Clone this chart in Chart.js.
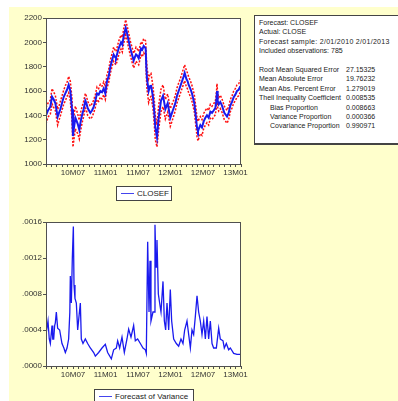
<!DOCTYPE html>
<html>
<head>
<meta charset="utf-8">
<script src="https://cdn.jsdelivr.net/npm/chart.js@4.4.0/dist/chart.umd.min.js"></script>
<style>
  html, body { margin: 0; padding: 0; background: #fff; overflow: hidden; }
  body { width: 398px; height: 401px; position: relative; font-family: "Liberation Sans", Arial, sans-serif; }
  #panel { position: absolute; left: 9px; top: 7px; right: 0; bottom: 0; background: #ffffcc; }
  canvas { position: absolute; }
  .legend { position: absolute; border: 1px solid #444; background: #fff; font-size: 8px; color: #222; height: 13px; line-height: 13px; white-space: nowrap; }
  .legend i { display: inline-block; width: 13px; height: 0; border-top: 1px solid #4444ee; vertical-align: middle; margin: 0 3px 0 4px; }
  #stats { position: absolute; left: 254px; top: 15px; width: 160px; height: 127px; background: #fff; border: 1px solid #444; border-bottom-width: 2px; font-size: 7px; color: #222; }
  #stats div { position: absolute; left: 4px; white-space: nowrap; }
  #stats span { position: absolute; left: 87px; letter-spacing: 0; }
</style>
</head>
<body>
<div id="panel"></div>
<canvas id="top" width="250" height="190" style="left:0;top:0"></canvas>
<canvas id="bottom" width="250" height="190" style="left:0;top:200px"></canvas>
<div class="legend" style="left:116px;top:186px;width:54px"><i></i>CLOSEF</div>
<div class="legend" style="left:94px;top:389px;width:98px"><i></i>Forecast of Variance</div>
<div id="stats"></div>
<script>
// x positions are in months from the start of the sample (Feb 2010)
const tickMonths = [5, 11, 17, 23, 29, 35];
const tickLabels = ['10M07', '11M01', '11M07', '12M01', '12M07', '13M01'];

const priceMonths = [0, 0.37, 0.8, 1.11, 1.42, 1.72, 2.15, 2.4, 2.65, 3.26, 3.57, 3.88, 4.18, 4.49, 4.8, 4.98,
  5.11, 5.42, 5.6, 5.85, 6.15, 6.4, 6.65, 6.95, 7.26, 7.45, 7.69, 8.18, 8.49, 8.8, 9.11, 9.42, 9.72, 10.03,
  10.34, 10.65, 10.95, 11.26, 11.57, 11.88, 12.18, 12.49, 12.74, 12.92, 13.23, 13.42, 13.85, 14.09, 14.34,
  14.71, 14.89, 15.08, 15.32, 15.57, 15.88, 16.18, 16.43, 16.62, 16.86, 17.11, 17.54, 17.78, 18.03, 18.4,
  18.52, 18.65, 18.95, 19.2, 19.38, 19.75, 20.0, 20.18, 20.49, 20.8, 21.23, 21.6, 21.85, 22.03, 22.46, 22.71,
  22.95, 23.26, 23.57, 23.88, 24.18, 24.49, 24.8, 25.11, 25.42, 25.6, 25.91, 26.15, 26.34, 26.65, 26.95,
  27.38, 27.69, 27.88, 28.06, 28.31, 28.49, 28.8, 29.11, 29.42, 29.72, 30.03, 30.34, 30.65, 30.95, 31.26,
  31.45, 31.57, 31.69, 31.88, 32.18, 32.49, 32.92, 33.42, 33.72, 34.03, 34.34, 34.65, 34.95, 35.26, 35.57, 35.88];

const closef = [1400, 1440, 1471, 1554, 1530, 1500, 1388, 1420, 1450, 1550, 1580, 1610, 1651, 1600, 1450, 1230,
  1280, 1380, 1360, 1330, 1280, 1350, 1400, 1450, 1520, 1500, 1460, 1420, 1440, 1470, 1520, 1580, 1570, 1600,
  1590, 1620, 1580, 1680, 1720, 1800, 1850, 1900, 1880, 1870, 1920, 1950, 2000, 1980, 2050,
  2120, 2090, 2050, 2000, 1950, 1900, 1850, 1880, 1900, 1890, 1870, 1950, 1940, 1970, 1950,
  1800, 1700, 1600, 1640, 1650, 1550, 1420, 1300, 1220, 1380, 1520, 1560, 1500, 1450, 1500, 1440,
  1380, 1420, 1460, 1500, 1560, 1600, 1640, 1680, 1720, 1748, 1700, 1680, 1650, 1620, 1580,
  1500, 1380, 1300, 1270, 1300, 1320, 1300, 1350, 1380, 1400, 1380, 1430, 1420, 1440, 1460,
  1520, 1600, 1520, 1490, 1510, 1480, 1420, 1390, 1420, 1480, 1510, 1550, 1570, 1600, 1610, 1640];

const upperBand = [1465, 1500, 1525, 1620, 1590, 1565, 1450, 1475, 1515, 1605, 1645, 1670, 1720, 1680, 1540, 1330,
  1380, 1475, 1450, 1410, 1360, 1425, 1470, 1515, 1580, 1560, 1515, 1475, 1495, 1525, 1570, 1635, 1620, 1655,
  1640, 1675, 1635, 1735, 1775, 1855, 1905, 1960, 1935, 1925, 1975, 2010, 2060, 2040, 2110,
  2185, 2150, 2115, 2060, 2010, 1960, 1910, 1935, 1960, 1945, 1925, 2005, 1995, 2030, 2010,
  1880, 1790, 1700, 1740, 1745, 1640, 1520, 1400, 1320, 1480, 1615, 1650, 1585, 1530, 1575, 1515,
  1455, 1490, 1525, 1565, 1625, 1665, 1700, 1745, 1790, 1815, 1770, 1745, 1715, 1685, 1645,
  1570, 1455, 1380, 1350, 1375, 1390, 1365, 1415, 1440, 1460, 1440, 1490, 1475, 1495, 1515,
  1580, 1660, 1580, 1545, 1565, 1535, 1475, 1440, 1470, 1530, 1560, 1600, 1620, 1650, 1660, 1690];

const lowerBand = [1330, 1385, 1410, 1495, 1465, 1440, 1320, 1360, 1395, 1490, 1520, 1555, 1585, 1520, 1360, 1140,
  1185, 1290, 1270, 1250, 1205, 1275, 1335, 1390, 1460, 1445, 1400, 1370, 1385, 1420, 1465, 1530, 1515, 1550,
  1535, 1570, 1530, 1625, 1670, 1745, 1800, 1845, 1825, 1815, 1860, 1895, 1945, 1920, 1990,
  2060, 2030, 1990, 1940, 1890, 1840, 1790, 1820, 1845, 1830, 1815, 1895, 1880, 1915, 1890,
  1720, 1610, 1505, 1545, 1555, 1460, 1320, 1200, 1140, 1285, 1430, 1470, 1415, 1370, 1425, 1370,
  1310, 1350, 1395, 1440, 1500, 1540, 1580, 1620, 1660, 1685, 1635, 1615, 1585, 1555, 1515,
  1430, 1305, 1225, 1190, 1225, 1250, 1235, 1290, 1320, 1340, 1320, 1375, 1365, 1385, 1405,
  1465, 1545, 1465, 1435, 1455, 1425, 1365, 1335, 1365, 1430, 1460, 1500, 1520, 1550, 1560, 1590];

const varMonths = [0, 0.37, 0.6, 0.8, 1.11, 1.25, 1.42, 1.6, 1.72, 1.91, 2.15, 2.52, 2.95, 3.3, 3.57, 3.88, 4.18,
  4.4, 4.49, 4.68, 4.86, 5.05, 5.17, 5.35, 5.6, 5.85, 6.09, 6.34, 6.52, 6.83, 7.26, 7.69, 8.18, 8.8, 9.11,
  9.72, 10.34, 10.95, 11.38, 12.06, 12.49, 12.98, 13.23, 13.6, 14.03, 14.46, 14.95, 15.26, 15.69, 16.18,
  16.49, 16.92, 17.42, 17.91, 18.34, 18.52, 18.77, 19.02, 19.2, 19.38, 19.75, 20.0, 20.12, 20.31, 20.49,
  20.74, 20.98, 21.23, 21.6, 21.85, 22.09, 22.34, 22.65, 22.95, 23.2, 23.57, 24.06, 24.49, 24.92, 25.29,
  25.6, 26.03, 26.34, 26.65, 26.95, 27.26, 27.57, 27.88, 28.18, 28.49, 28.8, 29.11, 29.42, 29.72, 30.03,
  30.34, 30.65, 30.95, 31.45, 31.88, 32.18, 32.68, 32.92, 33.29, 33.72, 34.03, 34.65, 35.26, 35.88];

const varForecast = [0.00035, 0.0005, 0.0003, 0.00025, 0.00045, 0.0003, 0.0003, 0.00045, 0.00048, 0.0006, 0.00042,
  0.0004, 0.00025, 0.0002, 0.00015, 0.0002, 0.0003, 0.0006, 0.001, 0.0007, 0.0012, 0.00155, 0.0009, 0.00075,
  0.0007, 0.0004, 0.00055, 0.0007, 0.0003, 0.00025, 0.0003, 0.00025, 0.0002, 0.00015, 0.00011, 0.00015,
  0.0002, 0.00024, 0.00015, 0.00008, 0.00018, 0.0002, 0.00028, 0.0002, 0.00032, 0.00015, 0.0003, 0.00041,
  0.00032, 0.00045, 0.00028, 0.0003, 0.00025, 0.0002, 0.00018, 0.00014, 0.00138, 0.0006, 0.00117, 0.0005,
  0.0006, 0.0006, 0.00157, 0.0011, 0.0014, 0.0008, 0.0007, 0.0006, 0.00094, 0.0005, 0.0004, 0.0007, 0.0004,
  0.00085, 0.0005, 0.0003, 0.00025, 0.00022, 0.0003, 0.00025, 0.0004, 0.0005, 0.00035, 0.0002, 0.0004,
  0.00035, 0.00055, 0.00078, 0.0006, 0.0005, 0.00035, 0.0005, 0.0003, 0.00055, 0.0003, 0.0005, 0.00025,
  0.0002, 0.0002, 0.00042, 0.0003, 0.00028, 0.0002, 0.00025, 0.00018, 0.0002, 0.00014, 0.00013, 0.00013];

const statLines = [
  ['Forecast: CLOSEF', ''],
  ['Actual: CLOSE', ''],
  ['Forecast sample: 2/01/2010 2/01/2013', ''],
  ['Included observations: 785', ''],
  ['', ''],
  ['Root Mean Squared Error', '27.15325'],
  ['Mean Absolute Error', '19.76232'],
  ['Mean Abs. Percent Error', '1.279019'],
  ['Theil Inequality Coefficient', '0.008535'],
  ['     Bias Proportion', '0.008663'],
  ['     Variance Proportion', '0.000366'],
  ['     Covariance Proportion', '0.990971']
];

const stats = document.getElementById('stats');
statLines.forEach((row, i) => {
  const d = document.createElement('div');
  d.style.top = (3 + i * 9.4) + 'px';
  const indent = row[0].startsWith(' ');
  d.textContent = row[0].trim();
  if (indent) d.style.left = '15px';
  if (i === 2) d.style.letterSpacing = '0.3px';
  if (row[1]) {
    const s = document.createElement('span');
    s.textContent = row[1];
    s.style.left = (indent ? 76 : 87) + 'px';
    d.appendChild(s);
  }
  stats.appendChild(d);
});

const toPoints = (xs, ys) => xs.map((x, i) => ({ x: x, y: ys[i] }));
const font = { family: '"Liberation Sans", Arial, sans-serif', size: 8 };

const plotFrame = {
  id: 'plotFrame',
  beforeDatasetsDraw(chart) {
    const a = chart.chartArea, ctx = chart.ctx;
    ctx.save();
    ctx.fillStyle = '#fff';
    ctx.fillRect(a.left, a.top, a.right - a.left, a.bottom - a.top);
    ctx.restore();
  },
  afterDraw(chart) {
    const a = chart.chartArea, ctx = chart.ctx;
    ctx.save();
    ctx.strokeStyle = '#505050';
    ctx.lineWidth = 1;
    ctx.strokeRect(a.left + 0.5, a.top + 0.5, a.right - a.left - 1, a.bottom - a.top);
    ctx.restore();
  }
};

function makeOptions(yMin, yMax, yStep, yFormat, topPad, xHeight) {
  return {
    animation: false,
    responsive: false,
    events: [],
    layout: { padding: { top: topPad, right: 9, left: 0, bottom: 0 } },
    plugins: { legend: { display: false }, tooltip: { enabled: false } },
    elements: { point: { radius: 0 }, line: { tension: 0 } },
    scales: {
      x: {
        type: 'linear', min: 0, max: 36,
        afterFit(s) { s.height = xHeight; },
        border: { display: false },
        grid: { drawOnChartArea: false, drawTicks: true, tickLength: 3, color: '#505050' },
        ticks: {
          stepSize: 1, autoSkip: false, maxRotation: 0, padding: 1, color: '#333', font: font,
          callback(v) { const k = tickMonths.indexOf(v); return k >= 0 ? tickLabels[k] : ''; }
        }
      },
      y: {
        min: yMin, max: yMax,
        afterFit(s) { s.width = 46; },
        border: { display: false },
        grid: { drawOnChartArea: false, drawTicks: true, tickLength: 3, color: '#505050' },
        ticks: { stepSize: yStep, padding: 1, color: '#333', font: font, callback: yFormat }
      }
    }
  };
}

new Chart(document.getElementById('top'), {
  type: 'line',
  data: {
    datasets: [
      { data: toPoints(priceMonths, closef), borderColor: '#1a1aee', borderWidth: 2 },
      { data: toPoints(priceMonths, upperBand), borderColor: '#ff1010', borderWidth: 1.5, borderDash: [2, 1.5] },
      { data: toPoints(priceMonths, lowerBand), borderColor: '#ff1010', borderWidth: 1.5, borderDash: [2, 1.5] }
    ]
  },
  options: makeOptions(1000, 2200, 200, v => String(v), 18, 26),
  plugins: [plotFrame]
});

new Chart(document.getElementById('bottom'), {
  type: 'line',
  data: {
    datasets: [
      { data: toPoints(varMonths, varForecast), borderColor: '#1a1aee', borderWidth: 1.3 }
    ]
  },
  options: makeOptions(0, 0.0016, 0.0004, v => v.toFixed(4).replace(/^0/, ''), 22, 24),
  plugins: [plotFrame]
});
</script>
</body>
</html>
